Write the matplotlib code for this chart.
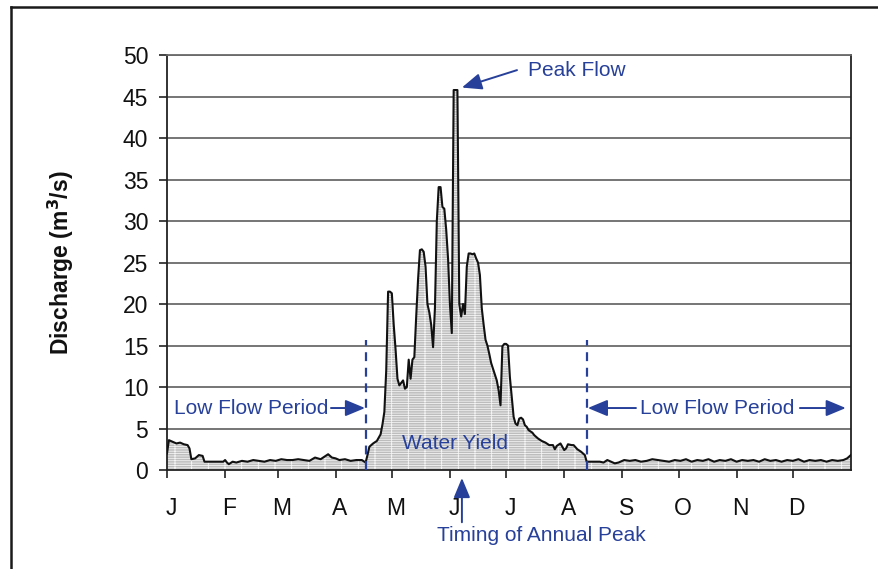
import matplotlib
matplotlib.use('Agg')
import matplotlib.pyplot as plt
from matplotlib.lines import Line2D
import matplotlib.transforms as mtransforms

plt.rcParams['font.family'] = ['Liberation Sans', 'DejaVu Sans']
plt.rcParams['hatch.linewidth'] = 0.6

# ---- data (day of year, discharge m3/s) ----
days = [0, 1, 3, 5, 7, 9, 11, 12, 13, 15, 17, 19, 20, 23, 27, 30, 31, 32, 33, 35, 37,
        40, 43, 46, 49, 52, 55, 58, 61, 64, 67, 70, 73, 76, 79, 82, 84, 86, 88, 90, 92,
        95, 98, 101, 104, 106,
        107, 108, 110, 112, 114, 115, 116, 117, 118, 119, 120, 121, 122, 123, 124, 125,
        126, 127, 128, 129, 130, 131, 132, 133, 134, 135, 136, 137, 138, 139, 140, 141,
        142, 143, 144, 145, 146, 147, 148, 149, 150, 151, 152, 153, 155, 156, 157, 158,
        159, 160, 161, 162, 163, 164, 165, 166, 167, 168, 169, 170, 171, 172, 173, 174,
        175, 176, 177, 178, 179, 180, 181, 182, 183, 184, 185, 186, 187, 188, 189, 190,
        191, 192, 193, 195, 196, 198, 200, 202, 204, 206, 207, 208, 210, 212, 213, 214,
        216, 217, 219, 221, 223, 224,
        226, 229, 231, 233, 235, 237, 239, 241, 244, 247, 250, 253, 256, 259, 262, 265,
        268, 271, 274, 277, 280, 283, 286, 289, 292, 295, 298, 301, 304, 307, 310, 313,
        316, 319, 322, 325, 328, 331, 334, 337, 340, 343, 346, 349, 352, 355, 358, 361,
        363, 365]
flow = [2.0, 3.6, 3.4, 3.2, 3.3, 3.1, 3.0, 2.6, 1.3, 1.4, 1.8, 1.7, 1.0, 1.0, 1.0, 1.0,
        1.2, 0.9, 0.7, 1.0, 0.9,
        1.1, 1.0, 1.2, 1.1, 1.0, 1.2, 1.1, 1.3, 1.2, 1.2, 1.3, 1.2, 1.1, 1.5, 1.3, 1.6,
        1.9, 1.5, 1.4, 1.2,
        1.3, 1.1, 1.2, 1.2, 0.9,
        1.8, 2.8, 3.2, 3.5, 4.3, 5.5, 7.0, 12.0, 21.5, 21.5, 21.3, 17.5, 14.5, 11.0, 10.2,
        10.5, 10.8, 9.8, 10.0, 13.3, 11.0, 13.3, 13.6, 18.5, 23.0, 26.5, 26.6, 26.3,
        24.5, 20.0, 19.0, 17.5, 14.8, 19.5, 30.0, 34.1, 34.1, 31.7, 31.5, 29.0, 25.5,
        20.0, 16.5, 45.8, 45.8, 20.0, 18.5, 20.0, 18.8, 24.5, 26.1, 26.1, 26.0,
        26.1, 25.5, 25.0, 23.5, 19.5, 17.5, 15.7, 15.0, 14.0, 12.9, 12.2, 11.5, 10.8, 9.6,
        7.8, 14.9, 15.2, 15.2, 15.0, 11.2, 8.8, 6.4, 5.6, 5.4, 6.2, 6.3, 6.1, 5.4, 5.2,
        4.8, 4.5, 4.2, 3.8, 3.5, 3.3, 3.0, 3.0, 2.5, 2.9, 3.2, 2.4, 2.6, 3.1, 3.0, 3.0,
        2.5, 2.2, 1.8, 1.0,
        1.0, 1.0, 1.0, 0.9, 1.2, 1.0, 0.8, 0.9, 1.2, 1.1, 1.2, 1.0, 1.1, 1.3, 1.2, 1.1,
        1.0, 1.2, 1.1, 1.3, 1.0, 1.2, 1.1, 1.3, 1.0, 1.2, 1.1, 1.3, 1.0, 1.2, 1.1, 1.2,
        1.0, 1.3, 1.1, 1.2, 1.0, 1.2, 1.1, 1.3, 1.0, 1.2, 1.1, 1.2, 1.0, 1.2, 1.1, 1.2,
        1.4, 1.8]

month_starts = [0, 31, 59, 90, 120, 151, 181, 212, 243, 273, 304, 334]
month_labels = ['J', 'F', 'M', 'A', 'M', 'J', 'J', 'A', 'S', 'O', 'N', 'D']
y_ticks = list(range(0, 51, 5))

low_flow_end = 106
low_flow_start = 224
peak_day = 157.4
peak_value = 46.1

BLUE = '#27409a'

fig = plt.figure(figsize=(8.79, 5.69), dpi=100)
ax = fig.add_axes([0.190, 0.174, 0.778, 0.729])

ax.fill_between(days, flow, 0, facecolor='#bdbdbd', edgecolor='#f4f4f4',
                hatch='|-------', linewidth=0, zorder=2)
ax.plot(days, flow, color='#111111', lw=1.5, zorder=3)

ax.set_xlim(0, 365)
ax.set_ylim(0, 50)
ax.set_yticks(y_ticks)
ax.set_yticklabels([str(v) for v in y_ticks])
ax.yaxis.grid(True, color='#6a6a6a', lw=1.3)
ax.set_axisbelow(True)
ax.set_xticks(month_starts)
ax.set_xticklabels(month_labels)
ax.tick_params(axis='both', direction='out', length=5.5, width=1.2, color='#222222',
               labelsize=16.5, labelcolor='#111111')
ax.tick_params(axis='y', pad=8)
ax.tick_params(axis='x', pad=14)
offset = mtransforms.ScaledTranslation(4 / 100, 0, fig.dpi_scale_trans)
for lab in ax.get_xticklabels():
    lab.set_transform(lab.get_transform() + offset)
for side in ['left', 'bottom', 'right']:
    ax.spines[side].set_color('#222222')
    ax.spines[side].set_linewidth(1.3)
ax.spines['top'].set_color('#6a6a6a')
ax.spines['top'].set_linewidth(1.3)

ax.set_ylabel('Discharge (m$^\\mathbf{3}$/s)', fontsize=16.5, fontweight='bold',
              labelpad=34, color='#111111')

# dashed period boundaries
ax.plot([low_flow_end, low_flow_end], [0, 15.7], color=BLUE, lw=1.6, ls=(0, (4, 3)), zorder=4)
ax.plot([low_flow_start, low_flow_start], [0, 15.7], color=BLUE, lw=1.6, ls=(0, (4, 3)), zorder=4)

arrow = dict(arrowstyle='-|>,head_length=0.6,head_width=0.25', mutation_scale=20,
             color=BLUE, lw=1.4, shrinkA=0, shrinkB=0)

ax.text(3.7, 7.47, 'Low Flow Period', color=BLUE, fontsize=15, ha='left', va='center')
ax.annotate('', xy=(105.7, 7.47), xytext=(87.5, 7.47), arrowprops=arrow)

ax.annotate('', xy=(224.6, 7.47), xytext=(250.3, 7.47), arrowprops=arrow)
ax.text(252.4, 7.47, 'Low Flow Period', color=BLUE, fontsize=15, ha='left', va='center')
ax.annotate('', xy=(362.3, 7.47), xytext=(337.8, 7.47), arrowprops=arrow)

ax.annotate('', xy=(peak_day, peak_value), xytext=(186.8, 48.2), arrowprops=arrow,
            annotation_clip=False)
ax.text(192.6, 48.2, 'Peak Flow', color=BLUE, fontsize=15, ha='left', va='center')

ax.text(153.7, 3.25, 'Water Yield', color=BLUE, fontsize=15, ha='center', va='center',
        zorder=5)

ax.annotate('', xy=(peak_day, -0.96), xytext=(peak_day, -6.3), arrowprops=arrow,
            annotation_clip=False)
ax.text(200, -7.95, 'Timing of Annual Peak', color=BLUE, fontsize=15, ha='center',
        va='center', clip_on=False)

# outer frame
W, H = 879, 569
fig.add_artist(Line2D([11 / W, 11 / W], [0, 1 - 7 / H], color='#1a1a1a', lw=1.8,
                      transform=fig.transFigure))
fig.add_artist(Line2D([11 / W, 1], [1 - 7 / H, 1 - 7 / H], color='#1a1a1a', lw=1.8,
                      transform=fig.transFigure))

fig.savefig('out.png', dpi=100)
